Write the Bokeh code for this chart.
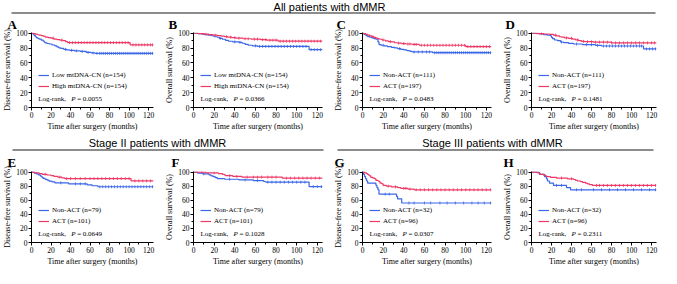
import numpy as np
from bokeh.plotting import figure
from bokeh.models import Range1d, Label, Legend, LegendItem, FixedTicker, BoxAnnotation, Title
from bokeh.layouts import column, row
from bokeh.embed import file_html
from bokeh.resources import INLINE

section_titles = ["All patients with dMMR", "Stage II patients with dMMR", "Stage III patients with dMMR"]
panel_letters = ["A", "B", "C", "D", "E", "F", "G", "H"]
y_titles = ["Disease-free survival (%)", "Overall survival (%)", "Disease-free survival (%)", "Overall survival (%)",
            "Disease-free survival (%)", "Overall survival (%)", "Disease-free survival (%)", "Overall survival (%)"]
x_title = "Time after surgery (months)"
legend_blue = ["Low mtDNA-CN (n=154)", "Low mtDNA-CN (n=154)", "Non-ACT (n=111)", "Non-ACT (n=111)",
               "Non-ACT (n=79)", "Non-ACT (n=79)", "Non-ACT (n=32)", "Non-ACT (n=32)"]
legend_red = ["High mtDNA-CN (n=154)", "High mtDNA-CN (n=154)", "ACT (n=197)", "ACT (n=197)",
              "ACT (n=101)", "ACT (n=101)", "ACT (n=96)", "ACT (n=96)"]
p_values = ["0.0055", "0.0366", "0.0483", "0.1481", "0.0649", "0.1028", "0.0307", "0.2311"]
x_ticks = [0, 20, 40, 60, 80, 100, 120]
x_minor = [10, 30, 50, 70, 90, 110]
y_ticks = [0, 20, 40, 60, 80, 100]
y_minor = [10, 30, 50, 70, 90]

A_blue_t = [0, 1, 2, 3, 4, 5, 6, 7, 8, 10, 12, 13, 14, 16, 18, 21, 24, 26, 28, 30, 33, 36, 39, 44, 50, 56, 61, 65, 125]
A_blue_s = [100, 99.3, 98.0, 96.7, 95.4, 94.1, 93.5, 92.8, 92.1, 90.8, 89.5, 88.2, 86.9, 86.2, 85.5, 84.2, 82.9, 81.6, 80.3, 79.6, 78.3, 77.6, 77.0, 76.3, 75.6, 74.2, 73.5, 72.9, 72.9]
A_blue_c = [35, 41, 46, 52, 58, 63, 67, 70, 72, 74, 76, 78, 80, 82, 84, 86, 88, 90, 92, 94, 96, 98, 100, 102, 104, 106, 108, 110, 112, 114, 116, 118, 120, 122, 124]
A_red_t = [0, 2, 4, 6, 8, 10, 12, 14, 17, 20, 23, 26, 29, 32, 35, 37, 101, 125]
A_red_s = [100, 99.4, 98.7, 98.0, 97.4, 96.7, 96.1, 94.8, 94.1, 93.4, 92.1, 91.5, 90.8, 90.1, 88.8, 87.4, 84.3, 84.3]
A_red_c = [22, 31, 39, 42, 45, 48, 51, 54, 57, 60, 63, 66, 69, 72, 75, 78, 81, 84, 87, 90, 93, 96, 99, 104, 107, 110, 113, 116, 119, 122, 124]

B_blue_t = [0, 4, 8, 11, 14, 17, 20, 23, 25, 28, 31, 34, 38, 44, 47, 50, 53, 57, 62, 112, 125]
B_blue_s = [100, 99.3, 98.7, 98.0, 97.3, 96.6, 95.3, 94.6, 93.2, 91.9, 90.5, 89.2, 88.5, 87.8, 86.5, 85.1, 83.8, 83.1, 82.2, 77.9, 77.9]
B_blue_c = [26, 40, 45, 60, 64, 67, 70, 73, 76, 79, 82, 85, 88, 91, 94, 97, 100, 103, 106, 109, 114, 117, 120, 123]
B_red_t = [0, 5, 10, 15, 19, 23, 27, 30, 33, 37, 41, 48, 56, 65, 71, 82, 125]
B_red_s = [100, 99.4, 98.7, 98.1, 97.4, 96.7, 96.1, 95.4, 94.7, 94.0, 93.3, 92.6, 92.0, 91.3, 90.6, 89.3, 89.3]
B_red_c = [12, 21, 32, 36, 40, 44, 50, 53, 59, 62, 67, 70, 74, 77, 80, 84, 87, 90, 93, 96, 99, 102, 105, 108, 111, 114, 117, 120, 123]

C_blue_t = [0, 1, 2, 3, 4, 5, 7, 9, 11, 13, 15, 16, 18, 21, 24, 28, 31, 34, 37, 40, 43, 46, 48, 68, 125]
C_blue_s = [100, 99.1, 98.2, 97.3, 96.4, 95.5, 94.6, 93.7, 92.8, 91.9, 88.3, 84.7, 83.8, 82.9, 82.0, 81.1, 80.2, 79.3, 78.4, 77.5, 76.6, 75.7, 74.8, 73.8, 73.8]
C_blue_c = [20, 36, 50, 54, 58, 62, 65, 70, 72, 74, 76, 78, 80, 82, 84, 86, 88, 90, 92, 94, 96, 98, 100, 102, 104, 106, 108, 110, 112, 114, 116, 118, 120, 122, 124]
C_red_t = [0, 1, 3, 5, 7, 9, 11, 13, 15, 17, 19, 22, 25, 28, 31, 34, 38, 42, 48, 55, 100, 125]
C_red_s = [100, 99.5, 98.5, 97.5, 96.4, 95.4, 94.4, 93.4, 92.4, 91.9, 90.9, 89.8, 88.8, 88.3, 87.2, 86.7, 86.1, 85.5, 84.9, 83.8, 82.0, 82.0]
C_red_c = [10, 20, 27, 35, 40, 44, 46, 50, 52, 57, 60, 63, 66, 69, 72, 75, 78, 81, 84, 87, 90, 93, 96, 99, 102, 105, 108, 111, 114, 117, 120, 123]

D_blue_t = [0, 8, 12, 16, 19, 20, 21, 23, 26, 29, 32, 37, 42, 51, 64, 70, 112, 125]
D_blue_s = [100, 99.1, 98.2, 97.3, 96.4, 94.5, 92.7, 90.9, 90.0, 88.2, 87.3, 86.4, 85.5, 84.6, 83.7, 82.8, 78.9, 78.9]
D_blue_c = [30, 45, 55, 60, 66, 72, 75, 78, 81, 84, 87, 90, 93, 96, 99, 102, 105, 108, 110, 115, 118, 121, 124]
D_red_t = [0, 5, 12, 18, 22, 25, 28, 30, 33, 37, 41, 44, 47, 50, 53, 62, 80, 125]
D_red_s = [100, 99.5, 99.0, 98.5, 97.4, 96.4, 95.3, 94.8, 93.8, 93.2, 92.2, 91.1, 90.1, 89.1, 88.6, 88.0, 87.0, 87.0]
D_red_c = [10, 24, 35, 40, 46, 52, 56, 60, 64, 68, 72, 76, 80, 84, 88, 92, 96, 100, 104, 108, 112, 116, 120, 123]

E_blue_t = [0, 3, 5, 7, 9, 10, 11, 12, 14, 16, 18, 21, 24, 38, 57, 62, 68, 125]
E_blue_s = [100, 98.7, 97.5, 96.2, 94.9, 93.7, 92.4, 91.1, 89.9, 88.6, 87.3, 86.1, 84.8, 83.5, 82.1, 80.7, 79.3, 79.3]
E_blue_c = [30, 45, 50, 55, 70, 73, 76, 79, 82, 85, 88, 91, 94, 97, 100, 103, 106, 109, 112, 115, 118, 121, 124]
E_red_t = [0, 3, 8, 11, 16, 20, 23, 27, 31, 34, 102, 125]
E_red_s = [100, 99.0, 98.0, 97.0, 96.0, 95.0, 94.0, 93.0, 92.0, 91.0, 87.6, 87.6]
E_red_c = [14, 29, 36, 40, 45, 50, 55, 60, 64, 68, 72, 76, 80, 84, 88, 92, 96, 100, 106, 110, 114, 118, 122]

F_blue_t = [0, 4, 9, 15, 17, 19, 21, 23, 30, 44, 58, 68, 70, 112, 125]
F_blue_s = [100, 98.7, 97.5, 96.2, 94.9, 93.6, 92.3, 91.0, 90.0, 89.0, 88.0, 86.8, 85.9, 79.5, 79.5]
F_blue_c = [10, 35, 50, 62, 72, 76, 80, 84, 88, 92, 96, 100, 104, 108, 116, 120, 124]
F_red_t = [0, 12, 24, 28, 30, 31, 38, 47, 86, 125]
F_red_s = [100, 99.0, 98.0, 97.0, 96.0, 95.0, 94.0, 93.0, 91.6, 91.6]
F_red_c = [8, 20, 35, 42, 52, 58, 62, 66, 72, 76, 80, 90, 94, 98, 102, 106, 110, 114, 118, 122]

G_blue_t = [0, 1, 2, 3, 4, 5, 13, 14, 15, 16, 33, 34, 38, 125]
G_blue_s = [100, 96.9, 93.8, 90.6, 87.5, 84.4, 81.3, 78.1, 75.0, 68.8, 65.6, 62.1, 56.2, 56.2]
G_blue_c = [22, 26, 45, 50, 60, 66, 75, 82, 90, 98, 106, 112, 118, 124]
G_red_t = [0, 2, 4, 5, 6, 7, 8, 10, 12, 13, 15, 16, 17, 19, 20, 23, 28, 34, 37, 44, 50, 125]
G_red_s = [100, 99.0, 97.9, 96.9, 95.8, 94.8, 92.7, 91.7, 90.6, 88.5, 87.5, 86.5, 84.4, 83.3, 81.3, 80.2, 79.2, 78.1, 77.0, 76.0, 75.0, 75.0]
G_red_c = [25, 32, 40, 42, 46, 52, 56, 60, 64, 68, 72, 76, 80, 84, 88, 92, 96, 100, 104, 108, 112, 116, 120, 124]

H_blue_t = [0, 8, 13, 15, 16, 18, 22, 35, 39, 125]
H_blue_s = [100, 96.9, 93.8, 90.6, 87.5, 84.4, 81.3, 78.1, 75.0, 75.0]
H_blue_c = [25, 30, 45, 50, 62, 70, 78, 86, 94, 102, 110, 118, 124]
H_red_t = [0, 6, 8, 9, 12, 14, 15, 19, 25, 36, 42, 44, 46, 49, 51, 54, 56, 58, 61, 125]
H_red_s = [100, 99.0, 97.9, 96.9, 95.8, 94.8, 93.8, 92.7, 91.7, 90.6, 89.6, 88.5, 87.5, 86.5, 85.4, 84.4, 83.3, 82.3, 81.2, 81.2]
H_red_c = [30, 40, 65, 68, 72, 76, 80, 84, 88, 92, 96, 100, 104, 108, 112, 116, 120, 124]

curves = [
    (A_blue_t, A_blue_s, A_blue_c, A_red_t, A_red_s, A_red_c),
    (B_blue_t, B_blue_s, B_blue_c, B_red_t, B_red_s, B_red_c),
    (C_blue_t, C_blue_s, C_blue_c, C_red_t, C_red_s, C_red_c),
    (D_blue_t, D_blue_s, D_blue_c, D_red_t, D_red_s, D_red_c),
    (E_blue_t, E_blue_s, E_blue_c, E_red_t, E_red_s, E_red_c),
    (F_blue_t, F_blue_s, F_blue_c, F_red_t, F_red_s, F_red_c),
    (G_blue_t, G_blue_s, G_blue_c, G_red_t, G_red_s, G_red_c),
    (H_blue_t, H_blue_s, H_blue_c, H_red_t, H_red_s, H_red_c),
]

BLUE = "#3A66E8"
RED = "#EE3866"
SERIF = "Liberation Serif"
SANS = "Liberation Sans"
X_MAX = 125
Y_MAX = 101

col_geom = [(161, 25, 8), (166, 32, 5), (166, 35, 2), (168, 38, 5)]
row_geom = [(122, 15, 29, 1), (117, 17, 22, 3)]
letter_dx = [-24, -25, -26, -26, -24, -22, -28, -28]


def km_panel(i):
    w, bl, br = col_geom[i % 4]
    h, bt, bb, lst = row_geom[i // 4]
    fw = w - bl - br
    fh = h - bt - bb
    p = figure(width=w, height=h, x_range=Range1d(0, X_MAX), y_range=Range1d(0, Y_MAX),
               output_backend="svg", toolbar_location=None,
               min_border_left=bl, min_border_right=br, min_border_top=bt, min_border_bottom=bb)
    p.title = Title(text=panel_letters[i], align="left", offset=letter_dx[i], standoff=lst,
                    text_font=SERIF, text_font_style="bold", text_font_size="13px",
                    text_color="black")
    p.grid.visible = False
    p.outline_line_color = None
    p.background_fill_color = "white"
    p.border_fill_color = "white"

    p.xaxis.ticker = FixedTicker(ticks=x_ticks, minor_ticks=x_minor)
    p.yaxis.ticker = FixedTicker(ticks=y_ticks, minor_ticks=y_minor)
    for ax in (p.xaxis[0], p.yaxis[0]):
        ax.axis_line_color = "black"
        ax.axis_line_width = 1
        ax.major_tick_line_color = "black"
        ax.minor_tick_line_color = "black"
        ax.major_tick_out = 3
        ax.major_tick_in = 0
        ax.minor_tick_out = 2
        ax.minor_tick_in = 0
        ax.major_label_text_font = SERIF
        ax.major_label_text_font_size = "7.5px"
        ax.major_label_text_color = "black"
        ax.major_label_standoff = 1
        ax.axis_label_text_font = SERIF
        ax.axis_label_text_font_size = "8px"
        ax.axis_label_text_font_style = "normal"
        ax.axis_label_text_color = "black"
        ax.axis_label_standoff = 1
    p.xaxis.axis_label = x_title
    p.yaxis.axis_label = y_titles[i]

    bt_, bs_, bc_, rt_, rs_, rc_ = curves[i]
    rends = []
    for t, s, c, col in ((bt_, bs_, bc_, BLUE), (rt_, rs_, rc_, RED)):
        ln = p.step(t, s, mode="after", line_color=col, line_width=1.2)
        ta = np.array(t, dtype=float)
        sa = np.array(s, dtype=float)
        idx = np.searchsorted(ta, np.array(c, dtype=float), side="right") - 1
        sc = p.scatter(c, sa[idx], marker="dash", angle=np.pi / 2, size=3,
                       line_color=col, line_width=0.8)
        rends.append([ln, sc])

    legend = Legend(items=[LegendItem(label=legend_blue[i], renderers=rends[0]),
                           LegendItem(label=legend_red[i], renderers=rends[1])],
                    location=(7, 16), padding=0, margin=0, spacing=1,
                    glyph_width=11, glyph_height=10, label_height=10, label_standoff=3,
                    label_text_font=SERIF, label_text_font_size="7px", label_text_color="black",
                    border_line_alpha=0, background_fill_alpha=0)
    p.add_layout(legend)

    lx = 7 * X_MAX / fw
    ly = 9.3 * Y_MAX / fh
    p.add_layout(Label(x=lx, y=ly, text="Log-rank,", text_font=SERIF, text_font_size="7px",
                       text_baseline="middle", text_color="black"))
    p.add_layout(Label(x=lx, y=ly, x_offset=33, text="P", text_font=SERIF, text_font_size="7px",
                       text_font_style="italic", text_baseline="middle", text_color="black"))
    p.add_layout(Label(x=lx, y=ly, x_offset=39, text="= " + p_values[i], text_font=SERIF,
                       text_font_size="7px", text_baseline="middle", text_color="black"))
    return p


def band(width, height, lines, texts):
    p = figure(width=width, height=height, x_range=Range1d(0, width), y_range=Range1d(0, height),
               output_backend="svg", toolbar_location=None, min_border=0,
               x_axis_location=None, y_axis_location=None)
    p.grid.visible = False
    p.outline_line_color = None
    for x0, x1, y in lines:
        p.add_layout(BoxAnnotation(left=x0, right=x1, bottom=y, top=y + 1, fill_color="black",
                                   fill_alpha=0.9, line_alpha=0))
    for x, y, txt in texts:
        p.add_layout(Label(x=x, y=y, text=txt, text_font=SANS, text_font_size="11px",
                           text_align="center", text_baseline="middle", text_color="black"))
    return p


top_band = band(661, 14, [(11, 655, 1)], [(329, 7.5, section_titles[0])])
mid_band = band(661, 15, [(12, 323, 1), (337, 653, 1)],
                [(157, 8.5, section_titles[1]), (492, 8.5, section_titles[2])])

panels = [km_panel(i) for i in range(8)]
layout = column(top_band, row(*panels[:4]), mid_band, row(*panels[4:]))

open("out.html", "w").write(file_html(layout, INLINE))
